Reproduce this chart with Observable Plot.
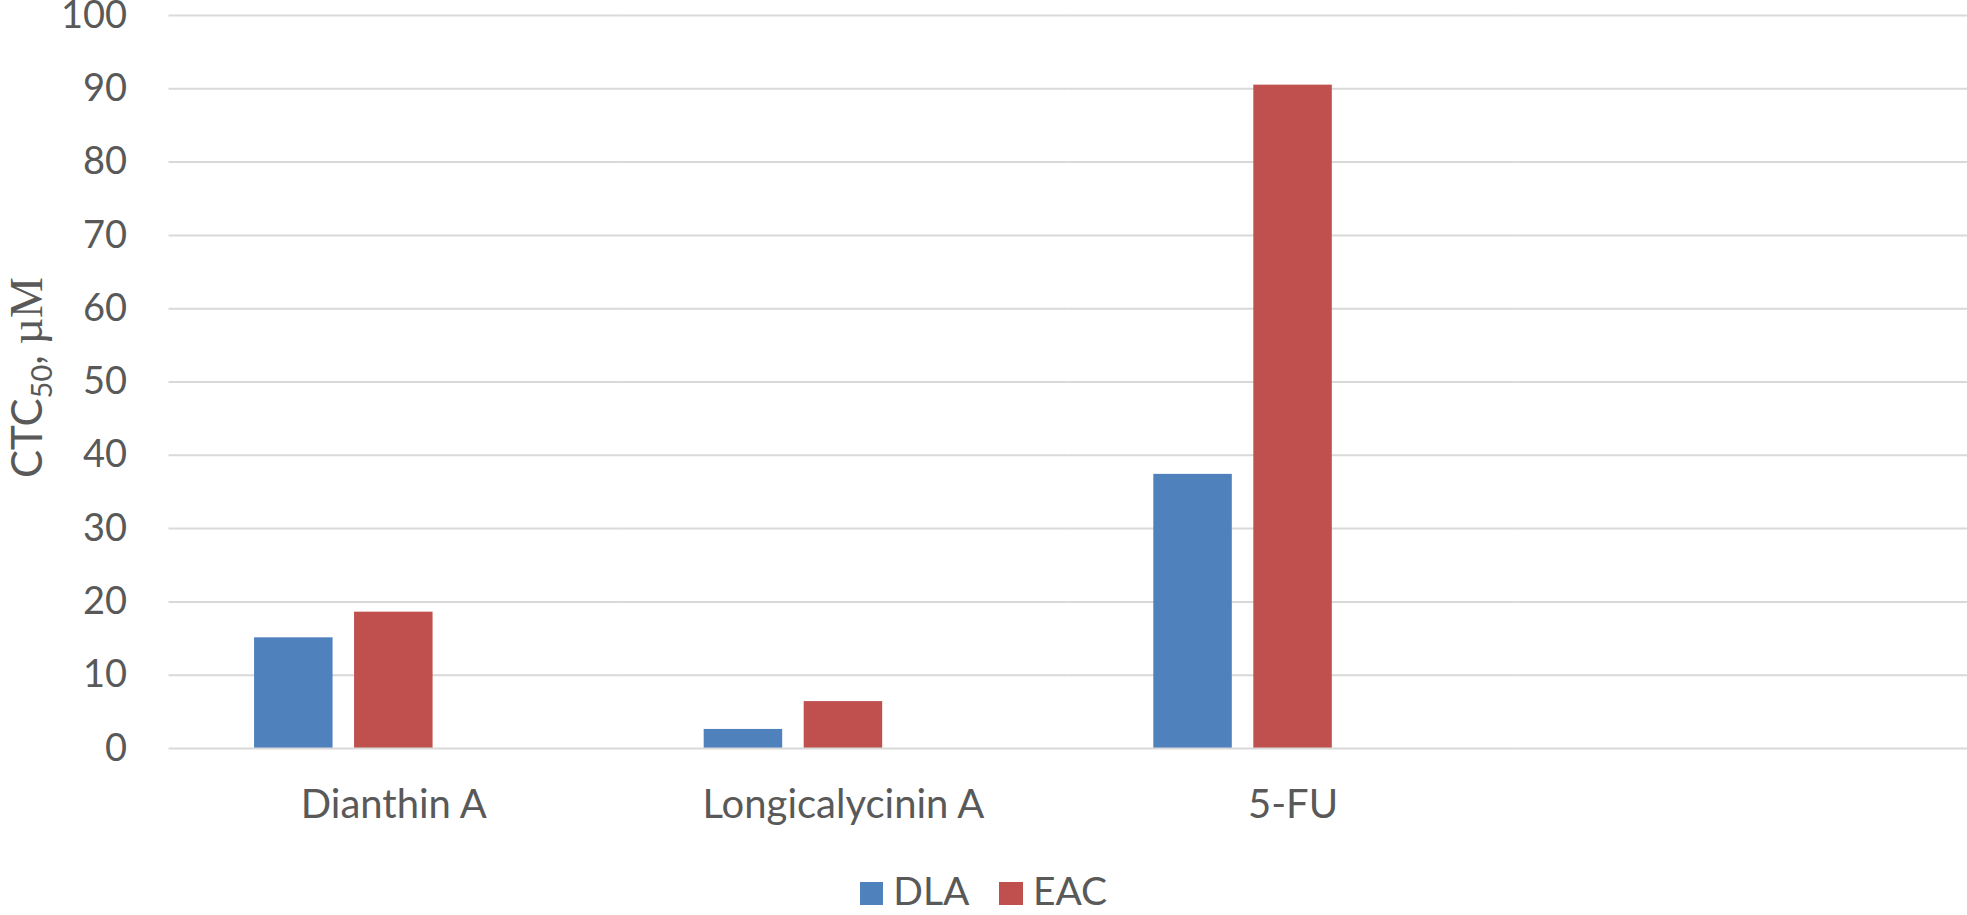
<!DOCTYPE html>
<html>
<head>
<meta charset="utf-8">
<script src="https://cdn.jsdelivr.net/npm/d3@7"></script>
<script src="https://cdn.jsdelivr.net/npm/@observablehq/plot@0.6"></script>
<style>
  html, body { margin: 0; padding: 0; overflow: hidden; background: #fff; }
  #wrap { position: relative; width: 1967px; height: 915px; }
  #legend { position: absolute; left: 0; top: 871px; width: 1967px; text-align: center; white-space: nowrap;
            font-family: Lato, sans-serif; font-size: 39px; line-height: 39px; color: #595959; }
  .item { display: inline-block; }
  .item + .item { margin-left: 30px; }
  .sw { display: inline-block; width: 23.5px; height: 23.5px; margin-right: 10px; vertical-align: baseline; }
</style>
</head>
<body>
<div id="wrap"><div id="chart"></div><div id="legend"></div></div>
<script>
// ---- data ----
const categories = ["Dianthin A", "Longicalycinin A", "5-FU", ""];
const series = ["DLA", "EAC"];
const slots = ["DLA", "EAC", "(empty)"];          // third, empty series slot of the original clustered chart
const dlaValues = [15.1, 2.6, 37.4];
const eacValues = [18.6, 6.4, 90.5];
const yTicks = [0, 10, 20, 30, 40, 50, 60, 70, 80, 90, 100];
const seriesColors = ["#4F81BD", "#C0504D"];

// ---- tables for the library ----
const bars = [];
categories.forEach((c, i) => {
  if (dlaValues[i] !== undefined) bars.push({category: c, series: "DLA", value: dlaValues[i]});
  if (eacValues[i] !== undefined) bars.push({category: c, series: "EAC", value: eacValues[i]});
});
const grid = categories.flatMap(c => yTicks.map(t => ({category: c, tick: t})));

const chart = Plot.plot({
  width: 1967,
  height: 850,
  marginLeft: 168.5,
  marginRight: 0,
  marginTop: 15,
  marginBottom: 102,
  style: {fontFamily: "Lato, sans-serif", fontSize: "39px", color: "#595959", background: "white", overflow: "visible"},
  fx: {domain: categories, padding: 0, round: false},
  x: {domain: slots, paddingInner: 0.215, paddingOuter: 0.8555, align: 0.5, round: false, axis: null},
  y: {domain: [0, 100], nice: false},
  color: {domain: series, range: seriesColors},
  marks: [
    Plot.ruleY(grid.filter(d => d.tick > 0), {fx: "category", y: "tick", stroke: "#D9D9D9", strokeWidth: 2}),
    Plot.barY(bars, {fx: "category", x: "series", y: "value", fill: "series"}),
    Plot.ruleY(grid.filter(d => d.tick === 0), {fx: "category", y: "tick", stroke: "#D9D9D9", strokeWidth: 2}),
    Plot.axisY({ticks: yTicks, tickSize: 0, tickPadding: 42, label: null, fontSize: 38, tickFormat: d => String(d)}),
    Plot.axisFx({anchor: "bottom", tickSize: 0, tickPadding: 41, label: null, fontSize: 40})
  ]
});
document.getElementById("chart").appendChild(chart);

// y-axis title with subscript and serif unit
const svg = d3.select(chart);
const t = svg.append("text")
  .attr("transform", "translate(42,377.5) rotate(-90)")
  .attr("text-anchor", "middle")
  .attr("fill", "#595959");
t.append("tspan").attr("font-family", "Lato, sans-serif").attr("font-size", 42).text("CTC");
t.append("tspan").attr("font-family", "Lato, sans-serif").attr("font-size", 29).attr("dy", 10).text("50");
t.append("tspan").attr("font-family", "Lato, sans-serif").attr("font-size", 42).attr("dy", -10).text(", ");
t.append("tspan").attr("font-family", "'Liberation Serif', serif").attr("font-size", 46).text("\u00B5M");

// legend
const legend = d3.select("#legend");
series.forEach((s, i) => {
  const item = legend.append("span").attr("class", "item");
  item.append("span").attr("class", "sw").style("background", seriesColors[i]);
  item.append("span").text(s);
});
</script>
</body>
</html>
